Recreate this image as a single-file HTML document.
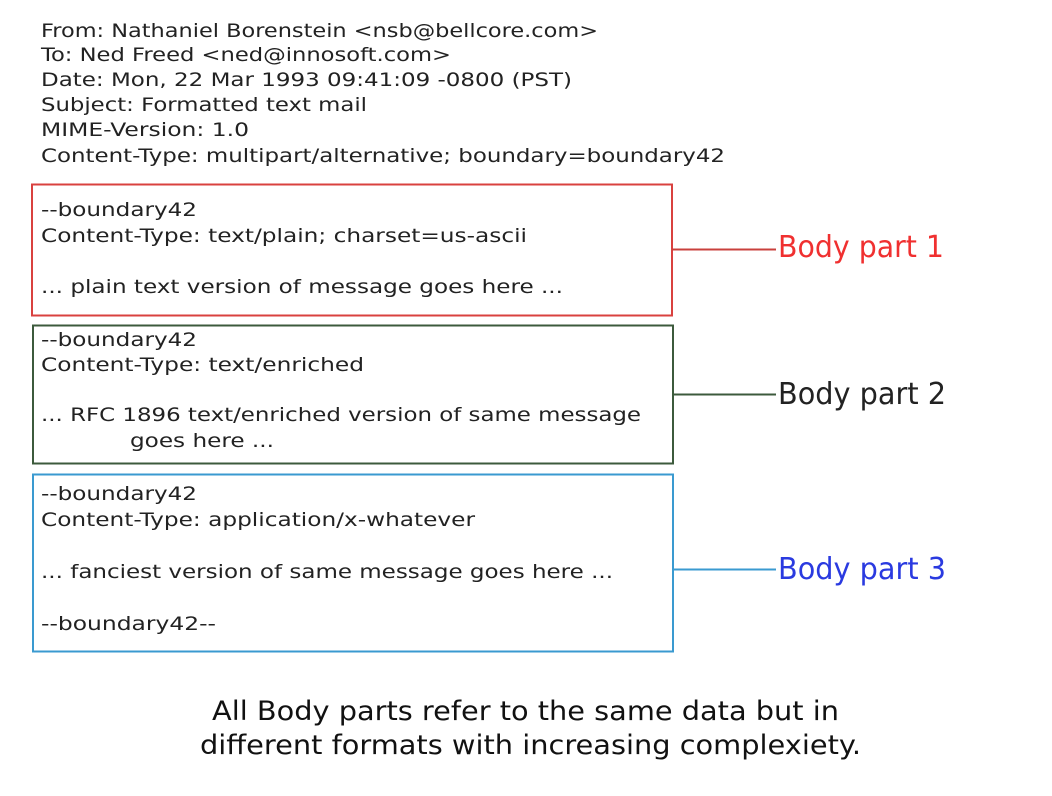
<!DOCTYPE html>
<html><head><meta charset="utf-8"><style>
html,body{margin:0;padding:0;background:#fff;}
svg{display:block;}
text{font-family:"DejaVu Sans","Liberation Sans",sans-serif;fill:#222;}
.m{font-size:19px;}
.b{font-size:30px;}
.f{font-size:27px;fill:#111;}
</style></head><body>
<svg width="1052" height="796" viewBox="0 0 1052 796" xmlns="http://www.w3.org/2000/svg">
<rect width="1052" height="796" fill="#fff"/>
<text class="m" x="41" y="37" textLength="557" lengthAdjust="spacingAndGlyphs">From: Nathaniel Borenstein &lt;nsb@bellcore.com&gt;</text>
<text class="m" x="41" y="61" textLength="410" lengthAdjust="spacingAndGlyphs">To: Ned Freed &lt;ned@innosoft.com&gt;</text>
<text class="m" x="41" y="86" textLength="531" lengthAdjust="spacingAndGlyphs">Date: Mon, 22 Mar 1993 09:41:09 -0800 (PST)</text>
<text class="m" x="41" y="111" textLength="326" lengthAdjust="spacingAndGlyphs">Subject: Formatted text mail</text>
<text class="m" x="41" y="136" textLength="208" lengthAdjust="spacingAndGlyphs">MIME-Version: 1.0</text>
<text class="m" x="41" y="162" textLength="684" lengthAdjust="spacingAndGlyphs">Content-Type: multipart/alternative; boundary=boundary42</text>

<rect x="32" y="184.5" width="640" height="131" fill="none" stroke="#d9413f" stroke-width="2"/>
<text class="m" x="41" y="216" textLength="156" lengthAdjust="spacingAndGlyphs">--boundary42</text>
<text class="m" x="41" y="242" textLength="486" lengthAdjust="spacingAndGlyphs">Content-Type: text/plain; charset=us-ascii</text>
<text class="m" x="41" y="293" textLength="522" lengthAdjust="spacingAndGlyphs">... plain text version of message goes here ...</text>
<line x1="672" y1="249.5" x2="776" y2="249.5" stroke="#c9403c" stroke-width="2"/>
<text class="b" x="778" y="257" textLength="166" lengthAdjust="spacingAndGlyphs" style="fill:#f03030">Body part 1</text>

<rect x="33" y="325.5" width="640" height="138" fill="none" stroke="#3c5a3c" stroke-width="2"/>
<text class="m" x="41" y="346" textLength="156" lengthAdjust="spacingAndGlyphs">--boundary42</text>
<text class="m" x="41" y="371" textLength="323" lengthAdjust="spacingAndGlyphs">Content-Type: text/enriched</text>
<text class="m" x="41" y="421" textLength="600" lengthAdjust="spacingAndGlyphs">... RFC 1896 text/enriched version of same message</text>
<text class="m" x="130" y="447" textLength="144" lengthAdjust="spacingAndGlyphs">goes here ...</text>
<line x1="673" y1="394.5" x2="776" y2="394.5" stroke="#3c5a3c" stroke-width="2"/>
<text class="b" x="778" y="404" textLength="168" lengthAdjust="spacingAndGlyphs" style="fill:#222">Body part 2</text>

<rect x="33" y="474.5" width="640" height="177" fill="none" stroke="#3a9ad0" stroke-width="2"/>
<text class="m" x="41" y="500" textLength="156" lengthAdjust="spacingAndGlyphs">--boundary42</text>
<text class="m" x="41" y="526" textLength="434" lengthAdjust="spacingAndGlyphs">Content-Type: application/x-whatever</text>
<text class="m" x="41" y="578" textLength="572" lengthAdjust="spacingAndGlyphs">... fanciest version of same message goes here ...</text>
<text class="m" x="41" y="630" textLength="175" lengthAdjust="spacingAndGlyphs">--boundary42--</text>
<line x1="673" y1="569.5" x2="776" y2="569.5" stroke="#3a9ad0" stroke-width="2"/>
<text class="b" x="778" y="579" textLength="168" lengthAdjust="spacingAndGlyphs" style="fill:#2a3ae0">Body part 3</text>

<text class="f" x="212" y="720" textLength="627" lengthAdjust="spacingAndGlyphs">All Body parts refer to the same data but in</text>
<text class="f" x="200" y="754" textLength="661" lengthAdjust="spacingAndGlyphs">different formats with increasing complexiety.</text>
</svg>
</body></html>
